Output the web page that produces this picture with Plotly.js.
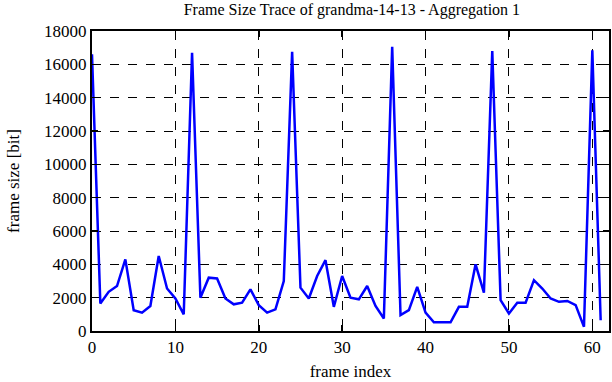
<!DOCTYPE html>
<html>
<head>
<meta charset="utf-8">
<script src="https://cdn.plot.ly/plotly-3.0.1.min.js"></script>
<style>html,body{margin:0;padding:0;background:#fff;}#chart{width:612px;height:382px;}</style>
</head>
<body>
<div id="chart"></div>
<script>
const frameIndex = [0,1,2,3,4,5,6,7,8,9,10,11,12,13,14,15,16,17,18,19,20,21,22,23,24,25,26,27,28,29,30,31,32,33,34,35,36,37,38,39,40,41,42,43,44,45,46,47,48,49,50,51,52,53,54,55,56,57,58,59,60,61];
const frameSize = [16600,1650,2350,2700,4300,1250,1100,1500,4500,2550,1950,1000,16700,2000,3200,3150,1950,1600,1700,2500,1550,1100,1300,3000,16750,2600,1950,3300,4250,1450,3300,2000,1900,2700,1500,750,17050,950,1250,2650,1100,520,520,520,1450,1450,4000,2300,16800,1850,1050,1700,1700,3050,2550,1950,1750,1800,1550,250,16850,650];
const xTicks = [0,10,20,30,40,50,60];
const yTicks = [0,2000,4000,6000,8000,10000,12000,14000,16000,18000];

const fontFam = 'Liberation Serif';
const axisCommon = {
  showline: true, linecolor: '#000', linewidth: 2, mirror: 'ticks',
  ticks: 'inside', ticklen: 6, tickwidth: 1.5, tickcolor: '#000',
  showgrid: true, gridcolor: '#000', gridwidth: 1, griddash: 'dash',
  zeroline: false, tickfont: {family: fontFam, size: 17, color: '#000'}
};
Plotly.newPlot('chart', [{
  x: frameIndex, y: frameSize, type: 'scatter', mode: 'lines',
  line: {color: '#0000ff', width: 2.5}
}], {
  width: 612, height: 382,
  font: {family: fontFam, size: 17, color: '#000'},
  margin: {l: 92, r: 3, t: 31, b: 51},
  paper_bgcolor: '#fff', plot_bgcolor: '#fff',
  showlegend: false,
  title: {text: 'Frame Size Trace of grandma-14-13 - Aggregation 1', font: {family: fontFam, size: 16, color: '#000'}, x: 0.575, xanchor: 'center', y: 0.975, yanchor: 'middle'},
  xaxis: Object.assign({}, axisCommon, {range: [0, 62], tickvals: xTicks, ticktext: xTicks.map(String),
    title: {text: 'frame index', font: {family: fontFam, size: 17, color: '#000'}, standoff: 9}}),
  yaxis: Object.assign({}, axisCommon, {range: [0, 18000], tickvals: yTicks, ticktext: yTicks.map(String),
    title: {text: 'frame size [bit]', font: {family: fontFam, size: 17, color: '#000'}, standoff: 20}})
}, {displayModeBar: false, staticPlot: true});
</script>
</body>
</html>
